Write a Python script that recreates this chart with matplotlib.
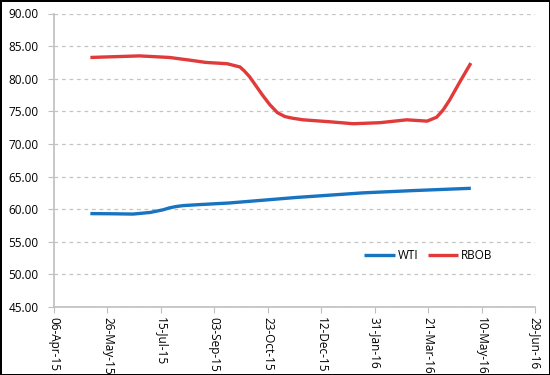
import matplotlib
matplotlib.use("Agg")
import matplotlib.pyplot as plt
import matplotlib.dates as mdates
import pandas as pd

# values
rbob_dates = ["2015-05-10", "2015-06-25", "2015-07-23", "2015-08-11", "2015-08-26",
              "2015-09-15", "2015-09-27", "2015-10-01", "2015-10-06", "2015-10-12",
              "2015-10-18", "2015-10-25", "2015-11-01", "2015-11-08", "2015-11-15",
              "2015-11-25", "2015-12-20", "2016-01-11", "2016-02-05", "2016-03-01",
              "2016-03-20", "2016-03-29", "2016-04-04", "2016-04-10", "2016-04-20",
              "2016-04-30"]
rbob_values = [83.26, 83.50, 83.26, 82.85, 82.50,
               82.30, 81.80, 81.20, 80.30, 78.90,
               77.50, 76.00, 74.80, 74.20, 73.95,
               73.70, 73.40, 73.10, 73.26, 73.70,
               73.50, 74.10, 75.20, 76.70, 79.60,
               82.40]

wti_dates = ["2015-05-10", "2015-05-28", "2015-06-19", "2015-07-05", "2015-07-17",
             "2015-07-23", "2015-07-29", "2015-08-05", "2015-08-20", "2015-09-17",
             "2015-11-19", "2016-01-20", "2016-03-07", "2016-04-30"]
wti_values = [59.32, 59.30, 59.25, 59.50, 59.90,
              60.20, 60.40, 60.55, 60.70, 60.95,
              61.80, 62.50, 62.85, 63.20]

x_ticks = pd.date_range("2015-04-06", periods=10, freq="50D")
y_ticks = [45, 50, 55, 60, 65, 70, 75, 80, 85, 90]

plt.rcParams["font.family"] = ["Open Sans", "DejaVu Sans"]

fig = plt.figure(figsize=(5.5, 3.75), dpi=100, edgecolor="black", linewidth=2)
ax = fig.add_axes([0.0982, 0.1813, 0.8745, 0.7827])

ax.plot(pd.to_datetime(wti_dates), wti_values, color="#1874C0", lw=2.4,
        solid_capstyle="butt", solid_joinstyle="round", label="WTI")
ax.plot(pd.to_datetime(rbob_dates), rbob_values, color="#E03A3A", lw=2.4,
        solid_capstyle="butt", solid_joinstyle="round", label="RBOB")

ax.set_xlim(x_ticks[0], x_ticks[-1])
ax.set_ylim(45, 90)
ax.set_xticks(x_ticks)
ax.xaxis.set_major_formatter(mdates.DateFormatter("%d-%b-%y"))
ax.set_yticks(y_ticks)
ax.set_yticklabels([f"{v:.2f}" for v in y_ticks])

ax.grid(axis="y", color="#C4C4C4", linestyle=(0, (3, 3)), linewidth=0.9)
ax.set_axisbelow(True)
for side in ["top", "right"]:
    ax.spines[side].set_visible(False)
for side in ["left", "bottom"]:
    ax.spines[side].set_color("#BFBFBF")
    ax.spines[side].set_linewidth(1.2)

ax.tick_params(axis="x", direction="out", length=4, color="#BFBFBF",
               labelsize=8.5, labelrotation=270, pad=3)
ax.tick_params(axis="y", direction="out", length=4, color="#BFBFBF",
               labelsize=8.5, pad=7)

ax.legend(loc="center", bbox_to_anchor=(0.778, 0.174), ncol=2, frameon=False,
          fontsize=8.5, handlelength=2.6, columnspacing=0.8, handletextpad=0.2)

fig.savefig("out.png", dpi=100, edgecolor=fig.get_edgecolor())
